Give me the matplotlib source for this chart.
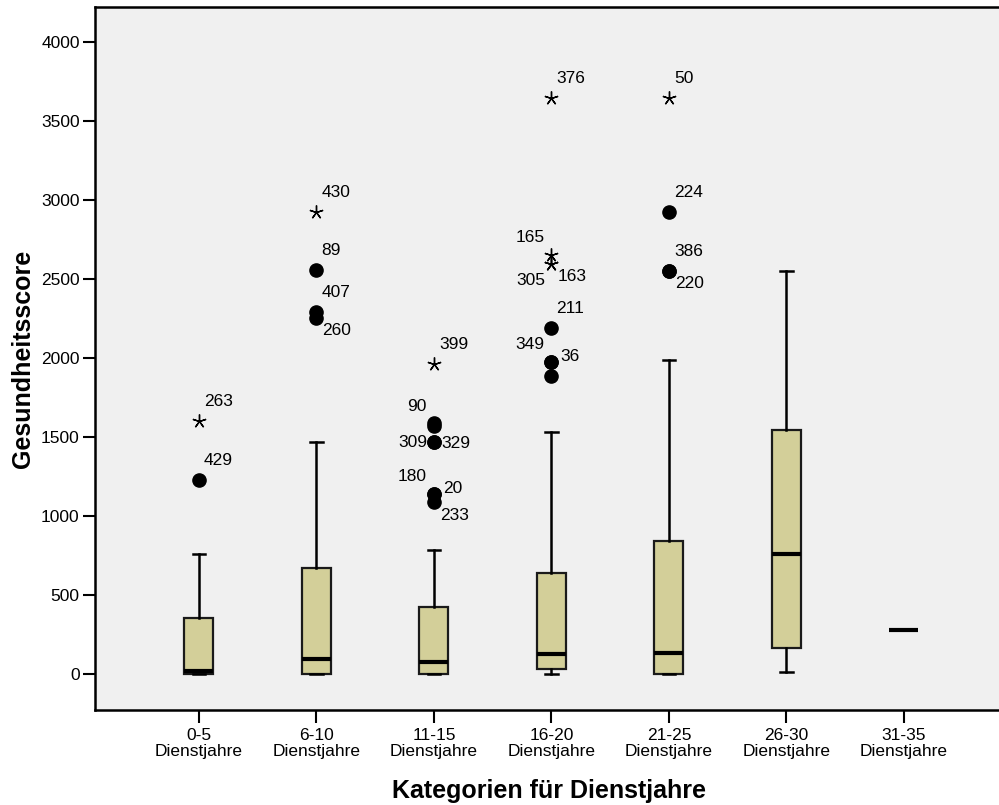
import matplotlib
matplotlib.use("Agg")
import matplotlib.pyplot as plt

plt.rcParams['font.family'] = ['Liberation Sans', 'DejaVu Sans']

# Categories (years of service)
categories = ["0-5\nDienstjahre", "6-10\nDienstjahre", "11-15\nDienstjahre",
              "16-20\nDienstjahre", "21-25\nDienstjahre", "26-30\nDienstjahre",
              "31-35\nDienstjahre"]

# Box statistics per category
q1 = [0, 2, 2, 34, 0, 168, 278]
median = [22, 97, 80, 128, 135, 761, 278]
q3 = [356, 675, 428, 641, 844, 1546, 278]
whisker_low = [0, 0, 0, 0, 0, 16, 278]
whisker_high = [763, 1470, 787, 1533, 1989, 2553, 278]

# Outliers: (category index, value, case label, label placement)
outlier_cat = [0, 0, 1, 1, 1, 1, 2, 2, 2, 2, 2, 2, 2, 2, 3, 3, 3, 3, 3, 3, 3, 3, 4, 4, 4, 4]
outlier_val = [1605, 1230, 2926, 2559, 2293, 2255, 1964, 1589, 1570, 1470, 1470, 1141, 1141, 1090,
               3649, 2654, 2597, 2597, 2192, 1978, 1978, 1888, 3649, 2928, 2554, 2554]
outlier_lab = ["263", "429", "430", "89", "407", "260", "399", "90", "", "309", "329", "180", "20", "233",
               "376", "165", "163", "305", "211", "349", "36", "", "50", "224", "386", "220"]
outlier_pos = ["ur", "ur", "ur", "ur", "ur", "dr", "ur", "ul", "", "l", "r", "ul", "r2", "dr",
               "ur", "ul", "dr", "dl", "ur", "ul", "r2", "", "ur", "ur", "ur", "dr"]
# True = extreme value (star), False = outlier (circle)
outlier_extreme = [True, False, True, False, False, False, True, False, False, False, False, False, False, False,
                   True, True, True, True, False, False, False, False, True, False, False, False]

positions = list(range(1, len(categories) + 1))

fig = plt.figure(figsize=(9.99, 8.05), dpi=100)
ax = fig.add_axes([95 / 999, 95 / 805, 908 / 999, 703 / 805])
ax.set_facecolor("#f0f0f0")

stats = []
for i in range(len(categories)):
    stats.append(dict(med=median[i], q1=q1[i], q3=q3[i],
                      whislo=whisker_low[i], whishi=whisker_high[i], fliers=[]))

ax.bxp(stats, positions=positions, widths=0.247, capwidths=0.11, showfliers=False,
       patch_artist=True,
       boxprops=dict(facecolor="#d3cf99", edgecolor="#1a1a1a", linewidth=1.6),
       medianprops=dict(color="black", linewidth=3.0, solid_capstyle="butt"),
       whiskerprops=dict(color="black", linewidth=1.8),
       capprops=dict(color="black", linewidth=1.8))

# Offsets in pixels for the case labels
offsets = {
    "ur": (5, 19, "left"),
    "ul": (-7, 17, "right"),
    "l": (-7, 0, "right"),
    "r": (7, -1, "left"),
    "r2": (9, 5, "left"),
    "dr": (6, -13, "left"),
    "dl": (-6, -17, "right"),
}

for c, v, lab, pos, ext in zip(outlier_cat, outlier_val, outlier_lab, outlier_pos, outlier_extreme):
    x = positions[c]
    if ext:
        ax.plot(x, v, marker=(5, 2, 0), markersize=10, color="black",
                markeredgewidth=1.0, linestyle="none", zorder=4)
    else:
        ax.plot(x, v, marker="o", markersize=9.5, color="black",
                linestyle="none", zorder=4)
    if lab:
        dx, dy, ha = offsets[pos]
        ax.annotate(lab, (x, v), xytext=(dx, dy), textcoords="offset pixels",
                    ha=ha, va="center", fontsize=12.5, color="black")

ax.set_xlim(0.115, 7.843)
ax.set_ylim(-226, 4223)
ax.set_yticks([0, 500, 1000, 1500, 2000, 2500, 3000, 3500, 4000])
ax.set_xticks(positions)
ax.set_xticklabels(categories, fontsize=12.5, linespacing=1.1)
ax.tick_params(axis="y", labelsize=12.5, length=9, width=1.5, pad=2)
ax.tick_params(axis="x", length=9, width=1.5, pad=4)

for side in ["left", "top", "bottom"]:
    ax.spines[side].set_linewidth(1.8)
ax.spines["right"].set_visible(False)

ax.set_ylabel("Gesundheitsscore", fontsize=18, fontweight="bold", labelpad=4)
ax.set_xlabel("Kategorien für Dienstjahre", fontsize=18, fontweight="bold", labelpad=14)

fig.savefig("out.png", dpi=100, facecolor="white")
